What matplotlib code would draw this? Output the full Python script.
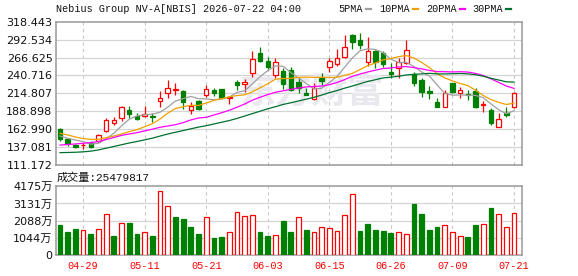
import numpy as np
import matplotlib
matplotlib.use("Agg")
import matplotlib.pyplot as plt
from matplotlib.patches import Rectangle
from matplotlib.lines import Line2D

title = "Nebius Group NV-A[NBIS] 2026-07-22 04:00"
date_labels = ["04-29", "05-11", "05-21", "06-03", "06-15", "06-26", "07-09", "07-21"]
date_idx = [3, 11, 19, 27, 35, 43, 51, 59]

opens = [163.3, 148.3, 140.1, 139.5, 142.5, 145.9, 160.8, 171.4, 179.6, 190.7,
         182.0, 182.0, 181.6, 204.2, 214.8, 219.2, 218.2, 191.2, 203.7, 212.9,
         219.7, 221.1, 208.5, 231.7, 228.3, 244.7, 273.6, 262.1, 241.3, 247.1,
         248.6, 231.7, 214.8, 206.2, 236.5, 253.4, 256.8, 267.9, 299.2, 292.0,
         259.7, 276.0, 273.6, 246.2, 251.0, 259.2, 242.3, 234.1, 217.7, 202.8,
         194.6, 230.3, 214.8, 213.4, 218.2, 198.5, 190.7, 165.7, 186.9, 194.6]
closes = [148.3, 143.5, 136.7, 140.5, 137.7, 154.1, 176.8, 176.0, 195.1, 185.0,
          177.7, 185.4, 180.6, 208.6, 222.0, 221.5, 202.8, 197.0, 192.2, 220.6,
          215.8, 208.6, 209.5, 226.9, 231.7, 265.0, 261.6, 253.4, 260.6, 228.8,
          219.6, 223.0, 212.9, 222.1, 233.1, 262.1, 265.5, 281.4, 288.6, 284.7,
          276.0, 260.6, 257.3, 242.3, 260.6, 277.5, 230.3, 217.2, 214.8, 195.6,
          215.8, 217.2, 219.6, 211.9, 194.6, 199.5, 172.4, 177.2, 183.0, 215.8]
highs = [164.7, 149.3, 141.5, 143.0, 146.4, 156.0, 178.7, 180.1, 196.5, 197.0,
         186.9, 196.0, 186.0, 218.2, 234.1, 229.3, 219.5, 202.3, 205.7, 226.4,
         223.0, 221.5, 210.0, 234.1, 235.1, 276.5, 281.4, 267.9, 265.5, 251.0,
         253.4, 239.0, 222.0, 229.3, 244.7, 265.5, 278.5, 299.2, 300.7, 301.6,
         295.8, 277.5, 276.0, 258.2, 265.5, 292.0, 246.2, 236.5, 225.4, 207.6,
         219.7, 230.5, 224.5, 219.6, 223.0, 204.2, 193.1, 185.9, 194.6, 217.2]
lows = [146.4, 139.1, 135.3, 135.0, 135.8, 144.0, 159.4, 169.0, 175.3, 178.7,
        176.3, 180.0, 173.8, 195.6, 208.1, 212.4, 191.7, 184.5, 190.7, 210.0,
        211.4, 207.6, 199.0, 219.7, 216.3, 238.9, 259.7, 249.5, 236.5, 220.6,
        218.7, 215.8, 212.4, 205.2, 226.9, 246.2, 254.8, 266.4, 278.5, 278.5,
        254.4, 251.0, 253.4, 236.5, 236.5, 257.3, 225.4, 209.0, 207.1, 194.6,
        194.6, 214.8, 208.6, 205.2, 193.1, 188.3, 169.0, 165.7, 180.1, 193.1]
# volume in 万 shares
volumes = [1833, 1405, 1609, 1528, 1283, 1589, 2485, 1161, 1935, 1955,
           1283, 1385, 1161, 3911, 2974, 2322, 2159, 1731, 1283, 2302,
           1059, 1100, 1385, 2607, 2363, 2424, 1405, 1161, 1202, 2078,
           1405, 2302, 1528, 1385, 1691, 1630, 1446, 2424, 3707, 1467,
           1894, 1528, 1467, 1344, 1385, 1263, 3117, 2506, 1528, 1711,
           1813, 1405, 1141, 1100, 1833, 1874, 2872, 2485, 1691, 2548]
last_volume = "25479817"

ma5_head = [153.1, 149.8, 147.3, 145.0]
ma10_head = [157.0, 154.6, 151.7, 149.3, 148.3, 148.3, 150.7, 153.1, 156.0]
ma20_head = [140.0, 140.8, 141.6, 142.6, 143.6, 145.0, 148.0, 151.0, 154.0, 156.0,
             158.0, 160.5, 163.0, 165.7, 167.6, 169.5, 172.4, 176.3, 179.2]
ma30_head = [129.0, 129.3, 129.6, 130.2, 131.2, 133.0, 135.5, 138.0, 140.5, 143.0,
             145.2, 147.5, 150.0, 153.0, 156.0, 158.5, 161.0, 163.5, 166.0, 168.0,
             170.5, 173.0, 175.5, 178.5, 182.0, 185.5, 189.0, 192.5, 195.5]

price_ticks = [111.172, 137.081, 162.990, 188.898, 214.807, 240.716, 266.625, 292.534, 318.443]
price_tick_labels = ["111.172", "137.081", "162.990", "188.898", "214.807",
                     "240.716", "266.625", "292.534", "318.443"]
vol_ticks = [0, 1044, 2088, 3131, 4175]
vol_tick_labels = ["0", "1044万", "2088万", "3131万", "4175万"]

ma_names = ["5PMA", "10PMA", "20PMA", "30PMA"]
ma_colors = ["#a0a0a0", "#f0a000", "#ff00ff", "#007030"]

RED = "#ff0000"
GREEN = "#008000"
GRID = "#d4d4d4"
FRAME = "#999999"

W, H = 578, 276
fig = plt.figure(figsize=(W / 100, H / 100), dpi=100)
fig.patch.set_facecolor("white")


def fx(px):
    return px / W


def fy(py):
    return 1 - py / H


o = np.array(opens); c = np.array(closes); hi = np.array(highs); lo = np.array(lows)
v = np.array(volumes, dtype=float)
n = len(c)
x = np.arange(n)


def moving(head, k):
    cs = np.convolve(c, np.ones(k) / k, mode="valid")
    return np.concatenate([np.array(head), cs])


mas = [moving(ma5_head, 5), moving(ma10_head, 10), moving(ma20_head, 20), moving(ma30_head, 30)]

ax = fig.add_axes([fx(56), fy(165), fx(522) - fx(56), fy(21.7) - fy(165)])
axv = fig.add_axes([fx(56), fy(255), fx(522) - fx(56), fy(186.3) - fy(255)])

xlim = (-0.52, n + 0.04)
for a in (ax, axv):
    a.set_xlim(*xlim)
    for s in a.spines.values():
        s.set_color(FRAME)
        s.set_linewidth(1.1)
    a.tick_params(length=0)
    for xi in date_idx:
        a.axvline(xi, color="#c8c8c8", lw=0.8, ls=(0, (3, 3)), zorder=0)

# price panel
ax.set_ylim(price_ticks[0], price_ticks[-1])
ax.set_yticks(price_ticks)
ax.set_yticklabels(price_tick_labels, fontsize=8, family="DejaVu Sans", color="#111111")
ax.tick_params(axis="y", pad=2.5)
ax.set_xticks([])
for t in price_ticks[1:-1]:
    ax.axhline(t, color=GRID, lw=0.9, zorder=0)

ax.text(0.549, 0.509, "东方财富", transform=ax.transAxes, fontsize=26,
        family=["Noto Sans CJK SC"], color="#e8e8ee", ha="center", va="center",
        zorder=0.5, fontweight="bold")

bw = 0.58
for i in range(n):
    up = c[i] >= o[i]
    col = RED if up else GREEN
    ax.plot([x[i], x[i]], [lo[i], hi[i]], color=col, lw=0.9, zorder=2, solid_capstyle="butt")
    b0 = min(o[i], c[i]); bh = max(abs(c[i] - o[i]), 0.6)
    ax.add_patch(Rectangle((x[i] - bw / 2, b0), bw, bh,
                           facecolor="white" if up else GREEN, edgecolor=col,
                           lw=0.9, zorder=3))

for m, colr in zip(mas, ma_colors):
    ax.plot(x, m, color=colr, lw=0.9, zorder=4)

# volume panel
axv.set_ylim(vol_ticks[0], vol_ticks[-1])
axv.set_yticks(vol_ticks)
axv.set_yticklabels(vol_tick_labels, fontsize=8, family=["DejaVu Sans", "Noto Sans CJK SC"],
                    color="#111111")
axv.tick_params(axis="y", pad=2.5)
for t in vol_ticks[1:-1]:
    axv.axhline(t, color=GRID, lw=0.9, zorder=0)
vol_up = np.r_[False, c[1:] > c[:-1]]
axv.bar(x, v, width=0.62, color=np.where(vol_up, "white", GREEN),
        edgecolor=np.where(vol_up, RED, GREEN), lw=0.9, zorder=3)
axv.set_xticks(date_idx)
axv.set_xticklabels(date_labels, fontsize=7.3, family="Liberation Mono", color=RED)
axv.tick_params(axis="x", pad=4.5)

# texts
fig.text(fx(56), fy(9), title, fontsize=7.3, family="Liberation Mono", color="#111111",
         ha="left", va="center")
fig.text(fx(57), fy(177.5), "成交量:" + last_volume, fontsize=8,
         family=["Liberation Mono", "Noto Sans CJK SC"], color="#111111", ha="left", va="center")

leg_text_x = [338, 379, 426, 472]
leg_mark_x = [366, 413, 460, 506]
for name, colr, tx, mx in zip(ma_names, ma_colors, leg_text_x, leg_mark_x):
    fig.text(fx(tx), fy(8.5), name, fontsize=7.3, family="Liberation Mono", color="#111111",
             ha="left", va="center")
    fig.add_artist(Line2D([fx(mx), fx(mx + 5)], [fy(8.5), fy(8.5)], color=colr, lw=1.6,
                          transform=fig.transFigure))

fig.savefig("out.png", dpi=100, facecolor="white")
